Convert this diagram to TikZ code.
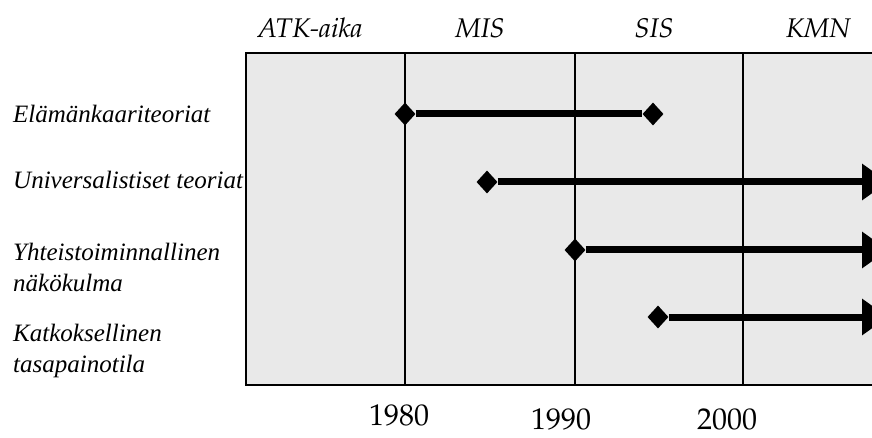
\documentclass[tikz,border=0pt]{standalone}
\usepackage[T1,TU]{fontenc}
\usepackage{fontspec}
\setmainfont{Liberation Serif}
\usetikzlibrary{shapes.geometric, arrows.meta}
\definecolor{panelgray}{RGB}{233, 233, 233}
\newcommand{\palfont}{\fontencoding{T1}\fontfamily{ppl}\selectfont}

\begin{document}
\begin{tikzpicture}[x=1pt, y=-1pt,
    endpt/.style={diamond, fill=black, inner sep=0pt, minimum width=21pt, minimum height=23pt},
    bar/.style={line width=7pt},
    rowlbl/.style={font=\fontsize{25}{31}\selectfont\itshape, align=left, anchor=base west, inner sep=0pt},
    eralbl/.style={font=\palfont\fontsize{27}{30}\selectfont\itshape, anchor=base, inner sep=0pt},
    yearlbl/.style={font=\palfont\fontsize{30}{33}\selectfont, anchor=base, inner sep=0pt}]
    \clip (0,0) rectangle (872,438);
    \useasboundingbox (0,0) rectangle (872,438);

    % Panel with era columns
    \fill[panelgray] (246,53) rectangle (900,385);
    \foreach \x in {405, 575, 743} {
        \draw[line width=1.3pt] (\x,53) -- (\x,385);
    }
    \draw[line width=2pt] (900,53) -- (246,53) -- (246,385) -- (900,385);

    % Eras
    \node[eralbl] (atk) at (310,38) {ATK-aika};
    \node[eralbl] (mis) at (480,38) {MIS};
    \node[eralbl] (sis) at (654,38) {SIS};
    \node[eralbl] (kmn) at (818,38) {KMN};

    % Years
    \node[yearlbl] (y80) at (399,425) {1980};
    \node[yearlbl] (y90) at (561,429) {1990};
    \node[yearlbl] (y00) at (727,429) {2000};

    % Theories (base = last line)
    \node[rowlbl] (elam) at (13,123) {Elämänkaariteoriat};
    \node[rowlbl] (univ) at (13,189) {Universalistiset teoriat};
    \node[rowlbl] (yhte) at (13,291) {Yhteistoiminnallinen\\näkökulma};
    \node[rowlbl] (katk) at (13,372) {Katkoksellinen\\tasapainotila};

    % Time spans
    \node[endpt] (elamA) at (405,114) {};
    \node[endpt] (elamB) at (653,114) {};
    \draw[bar] (elamA) -- (elamB);
    \foreach \n/\s/\y in {univ/487/182, yhte/575/250, katk/658/317} {
        \node[endpt] (\n A) at (\s,\y) {};
        \coordinate (\n B) at (888,\y);
        \draw[bar, -{Triangle[length=26pt, width=35pt]}] (\n A) -- (\n B);
    }
\end{tikzpicture}
\end{document}
